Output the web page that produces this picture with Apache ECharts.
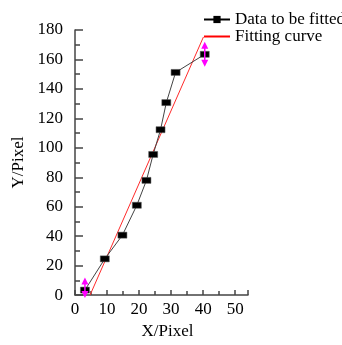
<!DOCTYPE html>
<html><head><meta charset="utf-8">
<script src="https://cdn.jsdelivr.net/npm/echarts@6/dist/echarts.min.js"></script>
<style>html,body{margin:0;padding:0;background:#fff}#c{width:342px;height:345px}</style>
</head><body><div id="c"></div>
<script>
var dataX = [3.1, 9.3, 14.8, 19.3, 22.3, 24.4, 26.7, 28.5, 31.4, 40.5];
var dataY = [3.4, 24.6, 40.7, 61.0, 77.9, 95.5, 112.3, 130.7, 151.2, 163.5];
var fitX = [4.7, 40.1];
var fitY = [0, 175.3];
var errX = [3.1, 40.5];
var errLow = [-2, 155];
var errHigh = [12, 172];
var seriesNames = ['Data to be fitted', 'Fitting curve'];
var axisNames = ['X/Pixel', 'Y/Pixel'];

var font = 'Liberation Serif';
var chart = echarts.init(document.getElementById('c'), null, {renderer: 'canvas'});
chart.setOption({
  animation: false,
  backgroundColor: '#fff',
  textStyle: {fontFamily: font},
  grid: {left: 75, top: 30, right: 94, bottom: 46, containLabel: false},
  legend: {
    orient: 'vertical', left: 203, top: 11, padding: 0, itemWidth: 26, itemHeight: 9, itemGap: 0,
    textStyle: {fontFamily: font, fontSize: 17, lineHeight: 17, color: '#000'},
    data: [
      {name: seriesNames[0], lineStyle: {width: 2, color: '#000'}, itemStyle: {color: '#000', borderWidth: 0}},
      {name: seriesNames[1], lineStyle: {width: 2, color: '#ff0000'}, itemStyle: {opacity: 0}}
    ]
  },
  xAxis: {
    type: 'value', min: 0, max: 54, interval: 10,
    name: axisNames[0], nameLocation: 'middle', nameGap: 26,
    nameTextStyle: {fontFamily: font, fontSize: 17, color: '#000', padding: [0, 0, 0, 12]},
    axisLine: {show: true, onZero: false, lineStyle: {color: '#444', width: 1.5}},
    axisTick: {show: true, inside: true, length: 5, lineStyle: {color: '#444', width: 1.5}},
    minorTick: {show: true, splitNumber: 2, length: 4, lineStyle: {color: '#444', width: 1.5}},
    axisLabel: {fontFamily: font, fontSize: 17, color: '#000', margin: 6, showMaxLabel: false},
    splitLine: {show: false}
  },
  yAxis: {
    type: 'value', min: 0, max: 180, interval: 20,
    name: axisNames[1], nameLocation: 'middle', nameGap: 48,
    nameTextStyle: {fontFamily: font, fontSize: 17, color: '#000'},
    axisLine: {show: true, onZero: false, lineStyle: {color: '#444', width: 1.5}},
    axisTick: {show: true, inside: true, length: 8, lineStyle: {color: '#444', width: 1.5}},
    minorTick: {show: true, splitNumber: 2, length: 5, lineStyle: {color: '#444', width: 1.5}},
    axisLabel: {fontFamily: font, fontSize: 17, color: '#000', margin: 12},
    splitLine: {show: false}
  },
  series: [
    {
      name: seriesNames[0], type: 'line',
      data: dataX.map(function (x, i) { return [x, dataY[i]]; }),
      symbol: 'rect', symbolSize: [9, 6], showAllSymbol: true,
      lineStyle: {color: '#444', width: 1},
      itemStyle: {color: '#000', borderColor: '#555', borderWidth: 0.5},
      z: 3
    },
    {
      name: seriesNames[1], type: 'line',
      data: fitX.map(function (x, i) { return [x, fitY[i]]; }),
      symbol: 'none',
      lineStyle: {color: '#ff2a2a', width: 1},
      itemStyle: {color: '#ff0000'},
      z: 2
    },
    {
      type: 'custom', silent: true, clip: false, z: 4,
      data: errX.map(function (x, i) { return [x, errLow[i], errHigh[i]]; }),
      renderItem: function (params, api) {
        var lo = api.coord([api.value(0), api.value(1)]);
        var hi = api.coord([api.value(0), api.value(2)]);
        var x = lo[0], c = '#ff00ff', h = 7, w = 3.5;
        return {
          type: 'group',
          children: [
            {type: 'line', shape: {x1: x, y1: lo[1] - h + 1, x2: x, y2: hi[1] + h - 1},
             style: {stroke: c, lineWidth: 1.5}},
            {type: 'polygon', shape: {points: [[x, hi[1]], [x - w, hi[1] + h], [x + w, hi[1] + h]]},
             style: {fill: c}},
            {type: 'polygon', shape: {points: [[x, lo[1]], [x - w, lo[1] - h], [x + w, lo[1] - h]]},
             style: {fill: c}}
          ]
        };
      }
    }
  ]
});
</script></body></html>
